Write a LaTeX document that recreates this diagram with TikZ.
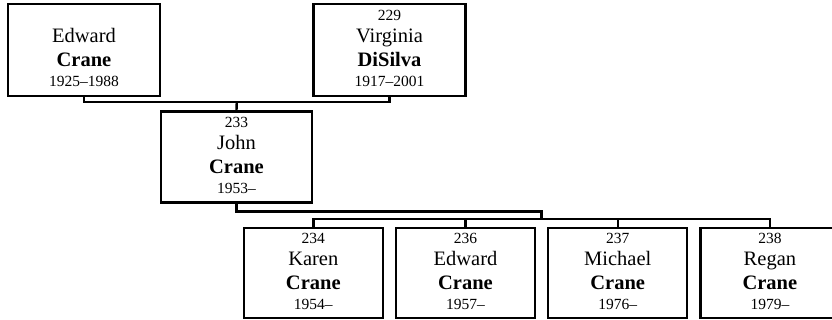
\documentclass[tikz,border=0pt]{standalone}
\usepackage{fontspec}
\setmainfont{Liberation Serif}
\usetikzlibrary{positioning, calc}

\newcommand\pcard[4]{%
  \renewcommand\arraystretch{0}%
  \begin{tabular}{@{}c@{}}
    \fontsize{15.5}{15.5}\selectfont\rule[-8pt]{0pt}{20pt}#1\\
    \fontsize{20.5}{20.5}\selectfont\rule[-10pt]{0pt}{24.4pt}#2\\
    \fontsize{20.5}{20.5}\selectfont\bfseries\rule[-6pt]{0pt}{20.3pt}#3\\
    \fontsize{15.5}{15.5}\selectfont\rule[-5pt]{0pt}{19pt}#4
  \end{tabular}}

\begin{document}
\begin{tikzpicture}[x=1pt, y=-1pt,
        person/.style={rectangle, draw=black, line width=2.4pt, inner sep=0pt,
                       minimum width=152pt, minimum height=92pt},
        kid/.style={person, minimum width=139pt, minimum height=90pt},
        link/.style={draw=black, line width=2.4pt},
        node distance=10.8pt]
      \useasboundingbox (0,0) rectangle (832,320);
      \node[person] (edward) at (84,50) {\pcard{}{Edward}{Crane}{1925--1988}};
      \node[person] (virginia) at (389.5,50) {\pcard{229}{Virginia}{DiSilva}{1917--2001}};
      \node[person, minimum width=151pt, minimum height=91pt] (john) at (236.5,157)
            {\pcard{233}{John}{Crane}{1953--}};
      \node[kid] (karen) at (313.3,273) {\pcard{234}{Karen}{Crane}{1954--}};
      \node[kid, right=of karen] (edwardjr) {\pcard{236}{Edward}{Crane}{1957--}};
      \node[kid, right=of edwardjr] (michael) {\pcard{237}{Michael}{Crane}{1976--}};
      \node[kid, right=of michael] (regan) {\pcard{238}{Regan}{Crane}{1979--}};
      \coordinate (wed) at ($(edward.south)!.5!(virginia.south) + (0,5)$);
      \coordinate (kidsbar) at ($(karen.north)!.5!(regan.north) + (0,-8)$);
      \draw[link] (edward.south) -- ++(0,5) -| (virginia.south);
      \draw[link] (wed) -- (john.north);
      \draw[link] (john.south) -- ++(0,8) -| (kidsbar);
      \draw[link] (karen.north) -- ++(0,-8) -| (regan.north);
      \foreach \k in {edwardjr, michael}
        \draw[link] (\k.north) -- (\k.north |- kidsbar);
    \end{tikzpicture}
\end{document}
